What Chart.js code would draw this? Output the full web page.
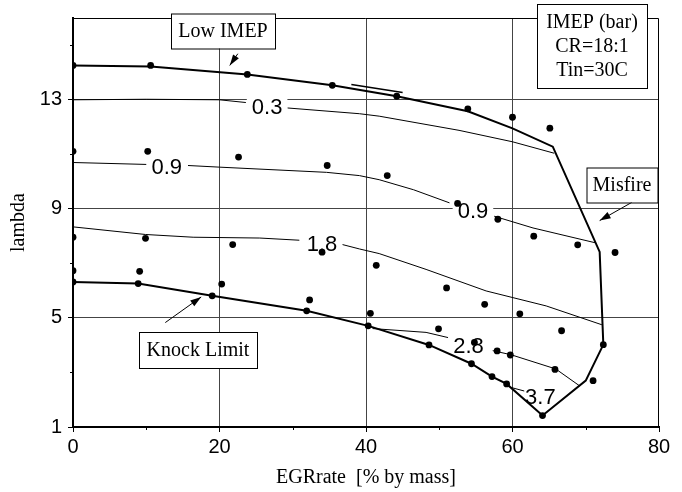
<!DOCTYPE html>
<html>
<head>
<meta charset="utf-8">
<script src="https://cdn.jsdelivr.net/npm/chart.js@4.4.1/dist/chart.umd.min.js"></script>
<style>
  html, body { margin: 0; padding: 0; background: #fff; }
  #wrap { width: 682px; height: 492px; position: relative; }
</style>
</head>
<body>
<div id="wrap"><canvas id="chart"></canvas></div>
<script>
// test points [EGR %, lambda]
const testPoints = [
  [0, 14.26], [10.6, 14.26], [23.8, 13.93], [35.4, 13.53], [44.2, 13.13], [53.9, 12.67], [60.0, 12.36], [65.1, 11.96],
  [0, 11.11], [10.2, 11.11], [22.6, 10.90], [34.7, 10.59], [42.9, 10.22], [52.5, 9.20], [58.0, 8.62], [62.9, 8.00], [68.9, 7.68], [74.0, 7.40],
  [0, 7.96], [9.9, 7.92], [21.8, 7.69], [34.0, 7.41], [41.4, 6.93], [51.0, 6.10], [56.2, 5.50], [61.0, 5.15], [66.7, 4.53], [72.4, 4.02],
  [0, 6.73], [9.1, 6.71], [20.3, 6.24], [32.3, 5.66], [40.6, 5.17], [49.9, 4.60], [54.8, 4.10], [57.9, 3.79], [59.7, 3.64], [65.8, 3.11], [71.0, 2.70],
  [0, 6.32], [8.9, 6.26], [19.0, 5.81], [31.9, 5.26], [40.3, 4.71], [48.6, 4.01], [54.4, 3.32], [57.2, 2.85], [59.2, 2.58], [64.1, 1.42]
];

// operating window: low IMEP edge, misfire edge, knock limit
const windowEdge = [
  [0, 14.26], [10.6, 14.22], [23.8, 13.93], [35.4, 13.53], [44.2, 13.13], [53.9, 12.58], [60.0, 11.95], [65.5, 11.28],
  [71.9, 7.42], [72.4, 4.02], [70.0, 2.70], [64.1, 1.42],
  [59.2, 2.58], [57.2, 2.85], [54.4, 3.32], [48.6, 4.01], [40.3, 4.71], [31.9, 5.26], [19.0, 5.81], [8.9, 6.26], [0, 6.32]
];
const lowImepTail = [[38.0, 13.56], [45.0, 13.27]];

// IMEP iso-lines (null = break for the label)
const imep03 = [[0, 13.0], [10, 13.02], [20, 13.0], [23.6, 12.9], null, [29.3, 12.7], [39.1, 12.49], [41.8, 12.40], [52.7, 11.88], [60.0, 11.46], [65.7, 11.04]];
const imep09a = [[0, 10.70], [10.0, 10.63], null, [15.7, 10.59], [20, 10.53], [34.6, 10.34], [39.1, 10.22], [41.8, 10.07], [46.5, 9.70], [51.4, 9.22], null,
  [57.5, 8.73], [62.8, 8.30], [71.4, 7.75]];
const imep18 = [[0, 8.34], [9.9, 8.06], [16.4, 7.96], [25.5, 7.93], [30.9, 7.85], null, [36.8, 7.69], [39.1, 7.53], [41.8, 7.36],
  [48.2, 6.78], [56.4, 5.99], [64.6, 5.44], [72.2, 4.75]];
const imep28 = [[40.9, 4.61], [48.2, 4.47], [51.2, 4.28], null, [57.3, 3.80], [59.8, 3.65], [65.9, 3.13], [69.1, 2.52]];
const imep37 = [[59.8, 2.45], [61.6, 2.32]];

const isoLabels = ['0.3', '0.9', '0.9', '1.8', '2.8', '3.7'];
const isoLabelX = [26.5, 12.8, 54.6, 34.0, 54.0, 63.8];
const isoLabelY = [12.74, 10.52, 8.94, 7.72, 3.98, 2.12];

const xTicks = [0, 10, 20, 30, 40, 50, 60, 70, 80];
const xLabelled = [0, 20, 40, 60, 80];
const yTicks = [1, 3, 5, 7, 9, 11, 13, 15];
const yLabelled = [1, 5, 9, 13];

// boxed notes and arrows, placed in data units
const notes = [
  { lines: ['Low IMEP'], x: 20.5, y: 15.51, w: 104, h: 35 },
  { lines: ['IMEP (bar)', 'CR=18:1', 'Tin=30C'], x: 70.8, y: 14.97, w: 110, h: 84 },
  { lines: ['Misfire'], x: 74.9, y: 9.88, w: 71, h: 35 },
  { lines: ['Knock Limit'], x: 17.1, y: 3.81, w: 118, h: 36 }
];
const arrows = [
  { from: [22.5, 14.69], to: [21.4, 14.26] },
  { from: [76.3, 9.24], to: [71.9, 8.57] },
  { from: [12.6, 4.83], to: [17.5, 5.77] }
];

const toXY = pts => pts.map(p => p ? { x: p[0], y: p[1] } : { x: null, y: null });

function lineSet(pts, width) {
  return {
    data: toXY(pts),
    showLine: true,
    borderColor: '#000',
    borderWidth: width,
    pointRadius: 0,
    pointHoverRadius: 0,
    tension: 0,
    spanGaps: false,
    order: 2,
    clip: false
  };
}

const isoLabelPlugin = {
  id: 'isoLabels',
  beforeDatasetsDraw(chart) {
    const { ctx, scales: { x, y } } = chart;
    ctx.save();
    ctx.font = '22px "Liberation Sans", Arial, sans-serif';
    ctx.textAlign = 'center';
    ctx.textBaseline = 'middle';
    isoLabels.forEach((t, i) => {
      const px = x.getPixelForValue(isoLabelX[i]);
      const py = y.getPixelForValue(isoLabelY[i]);
      const w = ctx.measureText(t).width + 10;
      ctx.fillStyle = '#fff';
      ctx.fillRect(px - w / 2, py - 10, w, 20);
      ctx.fillStyle = '#000';
      ctx.fillText(t, px, py + 1);
    });
    ctx.restore();
  }
};

function arrowHead(ctx, x0, y0, x1, y1, len, half) {
  const a = Math.atan2(y1 - y0, x1 - x0);
  ctx.beginPath();
  ctx.moveTo(x1, y1);
  ctx.lineTo(x1 - len * Math.cos(a) + half * Math.sin(a), y1 - len * Math.sin(a) - half * Math.cos(a));
  ctx.lineTo(x1 - len * Math.cos(a) - half * Math.sin(a), y1 - len * Math.sin(a) + half * Math.cos(a));
  ctx.closePath();
  ctx.fill();
}

const notesPlugin = {
  id: 'notes',
  afterDraw(chart) {
    const { ctx, chartArea: a, scales: { x, y } } = chart;
    ctx.save();
    // frame on top and right
    ctx.strokeStyle = '#000';
    ctx.lineWidth = 1;
    ctx.beginPath();
    ctx.moveTo(a.left, a.top + 0.5);
    ctx.lineTo(a.right - 0.5, a.top + 0.5);
    ctx.lineTo(a.right - 0.5, a.bottom);
    ctx.stroke();

    // short minor ticks
    ctx.beginPath();
    xTicks.filter(v => !xLabelled.includes(v)).forEach(v => {
      const px = Math.round(x.getPixelForValue(v)) + 0.5;
      ctx.moveTo(px, a.bottom - 1);
      ctx.lineTo(px, a.bottom + 3);
    });
    yTicks.filter(v => !yLabelled.includes(v)).forEach(v => {
      const py = Math.round(y.getPixelForValue(v)) + 0.5;
      ctx.moveTo(a.left - 3, py);
      ctx.lineTo(a.left + 1, py);
    });
    ctx.stroke();

    ctx.fillStyle = '#000';
    arrows.forEach(ar => {
      const x0 = x.getPixelForValue(ar.from[0]), y0 = y.getPixelForValue(ar.from[1]);
      const x1 = x.getPixelForValue(ar.to[0]), y1 = y.getPixelForValue(ar.to[1]);
      ctx.beginPath();
      ctx.moveTo(x0, y0);
      ctx.lineTo(x1, y1);
      ctx.stroke();
      arrowHead(ctx, x0, y0, x1, y1, 11, 3.5);
    });

    ctx.font = '20px "Liberation Serif", "Times New Roman", serif';
    ctx.textAlign = 'center';
    ctx.textBaseline = 'middle';
    notes.forEach(n => {
      const cx = Math.round(x.getPixelForValue(n.x));
      const cy = Math.round(y.getPixelForValue(n.y));
      const l = cx - n.w / 2, t = cy - n.h / 2;
      ctx.fillStyle = '#fff';
      ctx.fillRect(l, t, n.w, n.h);
      ctx.strokeRect(l + 0.5, t + 0.5, n.w, n.h);
      ctx.fillStyle = '#000';
      const step = 24;
      const start = cy - (n.lines.length - 1) * step / 2;
      n.lines.forEach((s, i) => ctx.fillText(s, cx, start + i * step + 1));
    });
    ctx.restore();
  }
};

Chart.defaults.font.family = '"Liberation Sans", Arial, sans-serif';
Chart.defaults.color = '#000';

new Chart(document.getElementById('chart'), {
  type: 'scatter',
  data: {
    datasets: [
      {
        data: toXY(testPoints),
        pointRadius: 3.4,
        pointHoverRadius: 3.4,
        pointBackgroundColor: '#000',
        pointBorderWidth: 0,
        showLine: false,
        order: 0,
        clip: 0
      },
      lineSet(windowEdge, 2),
      lineSet(lowImepTail, 1.5),
      lineSet(imep03, 1),
      lineSet(imep09a, 1),
      lineSet(imep18, 1),
      lineSet(imep28, 1),
      lineSet(imep37, 1)
    ]
  },
  options: {
    responsive: true,
    maintainAspectRatio: false,
    animation: false,
    events: [],
    layout: { padding: { top: 17, right: 23, bottom: 0, left: 0 } },
    plugins: {
      legend: { display: false },
      tooltip: { enabled: false }
    },
    scales: {
      x: {
        type: 'linear',
        min: 0,
        max: 80,
        afterBuildTicks: s => { s.ticks = xTicks.map(v => ({ value: v })); },
        afterFit: s => { s.height = 65; },
        ticks: {
          autoSkip: false,
          maxRotation: 0,
          padding: 3,
          font: { size: 20 },
          callback: v => xLabelled.includes(v) ? String(v) : ''
        },
        grid: {
          color: c => (c.tick && c.tick.value % 20 === 0 && c.tick.value > 0 && c.tick.value < 80) ? '#444' : 'rgba(0,0,0,0)',
          tickColor: c => (c.tick && xLabelled.includes(c.tick.value)) ? '#000' : 'rgba(0,0,0,0)',
          tickLength: 5,
          lineWidth: 1
        },
        border: { color: '#000', width: 2 },
        title: {
          display: true,
          text: 'EGRrate  [% by mass]',
          font: { family: '"Liberation Serif", "Times New Roman", serif', size: 20 },
          padding: { top: 0, bottom: 2 }
        }
      },
      y: {
        type: 'linear',
        min: 1,
        max: 16,
        afterBuildTicks: s => { s.ticks = yTicks.map(v => ({ value: v })); },
        afterFit: s => { s.width = 73; },
        ticks: {
          autoSkip: false,
          padding: 6,
          font: { size: 20 },
          callback: v => yLabelled.includes(v) ? String(v) : ''
        },
        grid: {
          color: c => (c.tick && [5, 9, 13].includes(c.tick.value)) ? '#444' : 'rgba(0,0,0,0)',
          tickColor: c => (c.tick && yLabelled.includes(c.tick.value)) ? '#000' : 'rgba(0,0,0,0)',
          tickLength: 5,
          lineWidth: 1
        },
        border: { color: '#000', width: 2 },
        title: {
          display: true,
          text: 'lambda',
          font: { family: '"Liberation Serif", "Times New Roman", serif', size: 20 },
          padding: { top: 7, bottom: 0 }
        }
      }
    }
  },
  plugins: [isoLabelPlugin, notesPlugin]
});
</script>
</body>
</html>
